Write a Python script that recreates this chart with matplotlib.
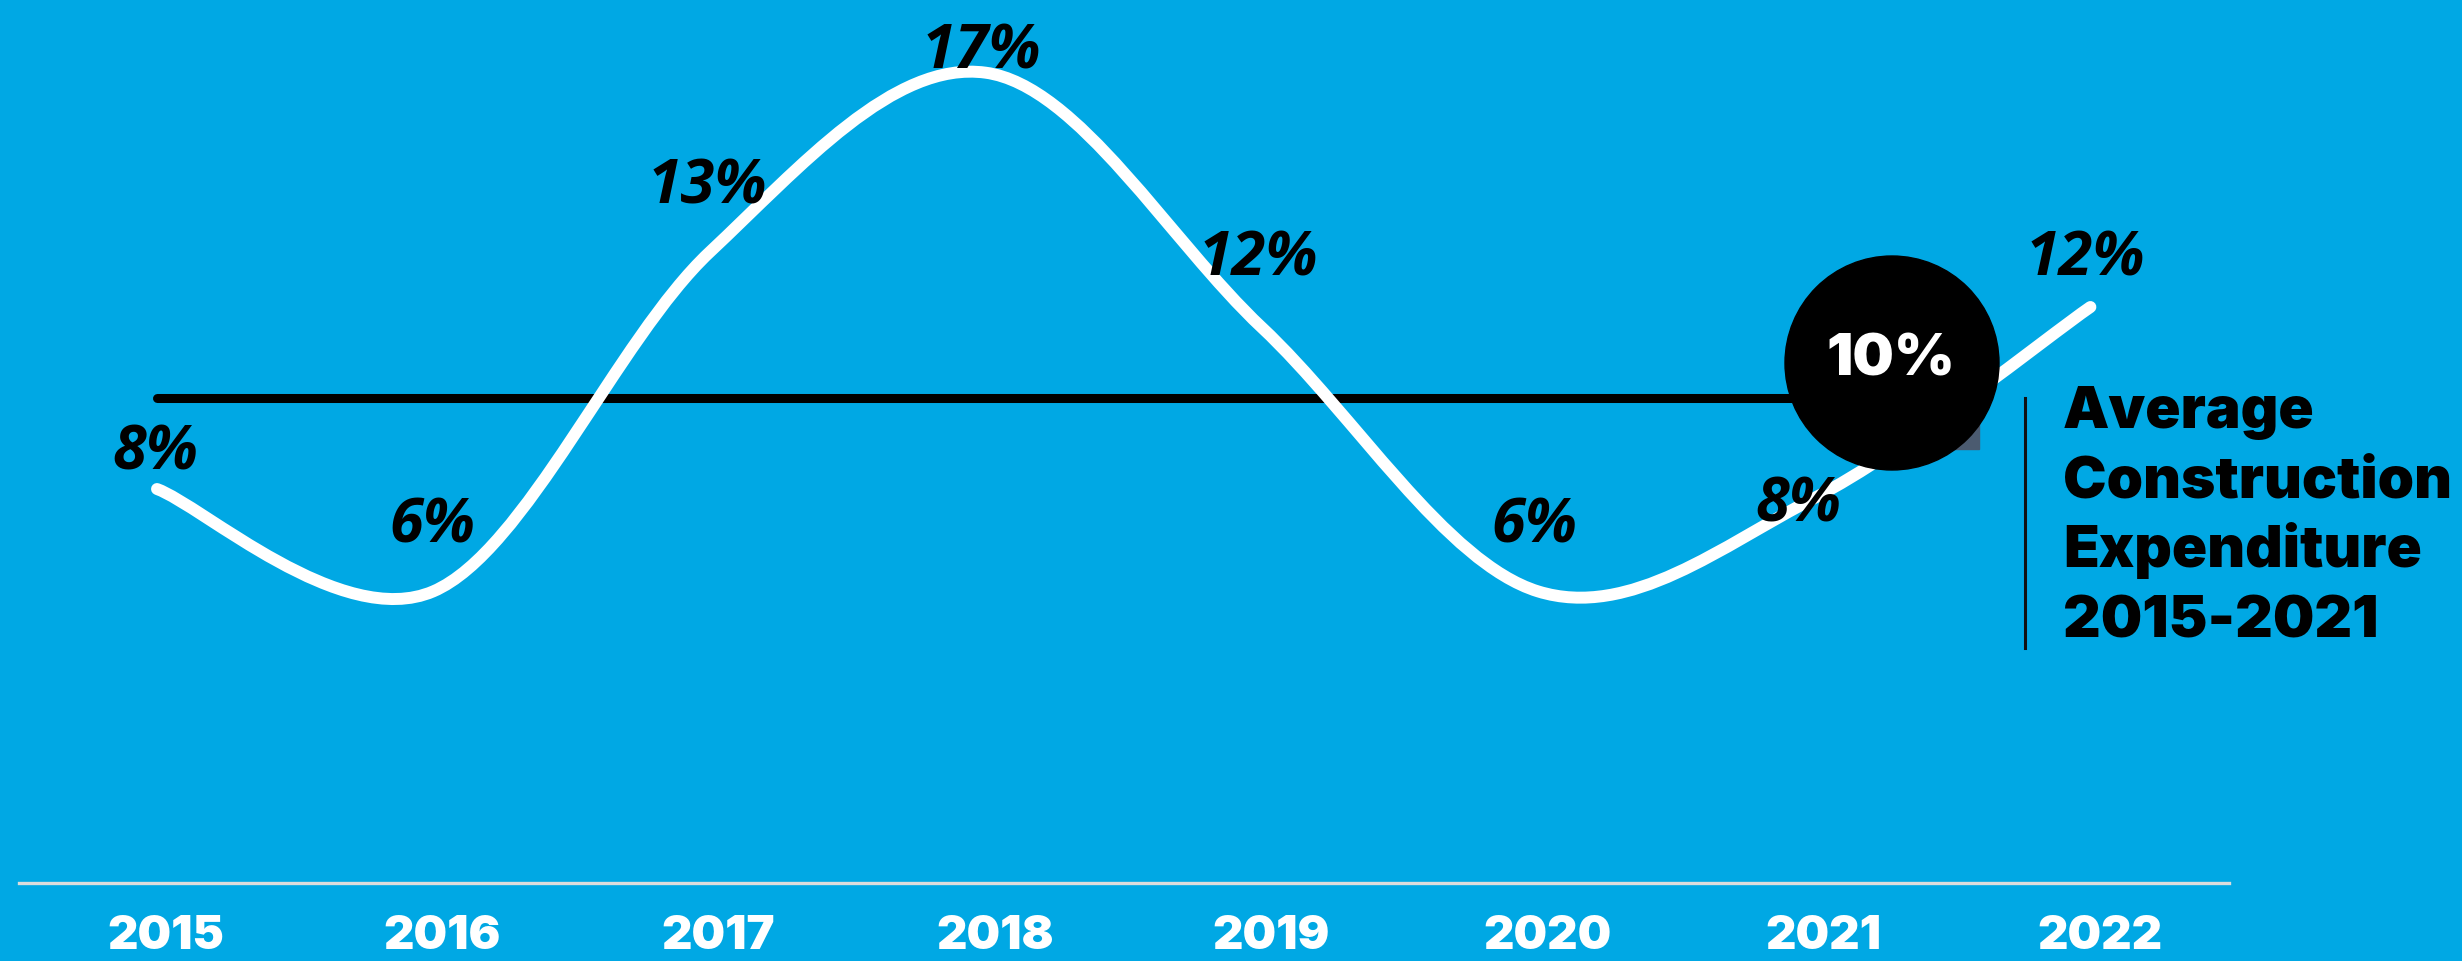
import numpy as np
import matplotlib
matplotlib.use("Agg")
import matplotlib.pyplot as plt
from matplotlib.path import Path
from matplotlib.patches import PathPatch, Ellipse, Rectangle
from matplotlib.lines import Line2D

# data (labels as printed)
years = [2015, 2016, 2017, 2018, 2019, 2020, 2021, 2022]
growth = [8.0, 5.75, 13.2, 17.15, 11.55, 5.75, 7.8, 12.0]
labels = ["8%", "6%", "13%", "17%", "12%", "6%", "8%", "12%"]
avg_value = 10
avg_label = "10%"
avg_title = ["Average", "Construction", "Expenditure", "2015-2021"]

# label offsets in pixels (dx, dy)
label_off = [(-2, 35), (-1, 64), (-2, 64), (-4, 20), (-3, 67), (-4, 64), (-16, -8), (-5, 47)]

BG = "#00a8e4"
W, H = 2462, 961
BOLD_FONT = ["Inter", "Lato", "DejaVu Sans"]

fig = plt.figure(figsize=(W / 100, H / 100), dpi=100, facecolor=BG)
ax = fig.add_axes([0, 0, 1, 1])
ax.set_facecolor(BG)
ax.axis("off")

# scales: x = year, y = percent
px_per_year = 276.2
x0_px = 157
ax.set_xlim(years[0] - x0_px / px_per_year, years[0] + (W - x0_px) / px_per_year)
py = 45.5
ax.set_ylim(avg_value - (H - 398) / py, avg_value + 398 / py)

# smooth line (bezier through the points, excel-like smoothing)
tension = 1 / 6
x = np.array(years, dtype=float)
y = np.array(growth, dtype=float)
n = len(x)
verts = [(x[0], y[0])]
codes = [Path.MOVETO]
for i in range(n - 1):
    xm, ym = (x[i - 1], y[i - 1]) if i > 0 else (x[i], y[i])
    xp, yp = (x[i + 2], y[i + 2]) if i + 2 < n else (x[i + 1], y[i + 1])
    c1 = (x[i] + (x[i + 1] - xm) * tension, y[i] + (y[i + 1] - ym) * tension)
    c2 = (x[i + 1] - (xp - x[i]) * tension, y[i + 1] - (yp - y[i]) * tension)
    verts += [c1, c2, (x[i + 1], y[i + 1])]
    codes += [Path.CURVE4] * 3
ax.add_patch(PathPatch(Path(verts, codes), fill=False, edgecolor="white",
                       lw=8.6, capstyle="round", joinstyle="round", zorder=3))

# average line
ax.plot([years[0], 2021.2], [avg_value, avg_value], color="black", lw=6.5,
        solid_capstyle="round", zorder=2)

# category axis line
ax.plot([years[0] - 0.5, years[-1] + 0.5], [avg_value - (883 - 398) / py] * 2,
        color="#dcdcdc", lw=2.4, zorder=1)

# percent labels
for xi, yi, lab, (dx, dy) in zip(years, growth, labels, label_off):
    ax.annotate(lab, (xi, yi), xytext=(dx, dy), textcoords="offset pixels",
                ha="center", va="center", fontsize=44, fontweight="bold",
                fontstyle="italic", color="black",
                family=["Open Sans", "Noto Sans", "DejaVu Sans"], zorder=5)

# year labels
for xi in years:
    ax.text(xi + 0.033, avg_value - (949 - 398) / py, str(xi), ha="center",
            va="baseline", fontsize=34, fontweight=900, color="white",
            family=BOLD_FONT)

# average badge
fig.patches.append(Rectangle((1939 / W, 1 - 449 / H), 40 / W, 39 / H,
                             transform=fig.transFigure, color="#4b5b70", zorder=4))
fig.patches.append(Ellipse((1892 / W, 1 - 363 / H), 214 / W, 214 / H,
                           transform=fig.transFigure, color="black", zorder=5))
fig.text(1891 / W, 1 - 360 / H, avg_label, ha="center", va="center",
         fontsize=42, fontweight=900, color="white", family=BOLD_FONT, zorder=6)

# side title
fig.lines.append(Line2D([2025 / W, 2025 / W], [1 - 648 / H, 1 - 398 / H],
                        transform=fig.transFigure, color="#111111", lw=2.2))
for k, line in enumerate(avg_title):
    fig.text(2063 / W, 1 - (428 + 69.7 * k) / H, line, ha="left", va="baseline",
             fontsize=42, fontweight=900, color="black", family=BOLD_FONT)

fig.savefig("out.png", dpi=100, facecolor=BG)
